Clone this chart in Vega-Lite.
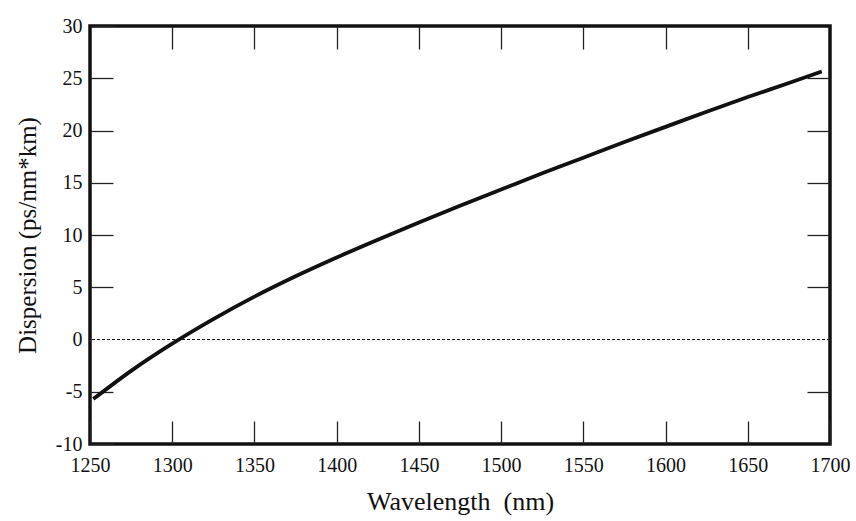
{
  "$schema": "https://vega.github.io/schema/vega-lite/v6.json",
  "width": 740,
  "height": 418,
  "autosize": {"type": "none"},
  "padding": {"left": 90, "top": 26, "right": 26, "bottom": 77},
  "background": "white",
  "config": {
    "font": "Liberation Serif",
    "view": {"stroke": "#111", "strokeWidth": 3.5},
    "axis": {
      "grid": false,
      "domain": false,
      "labelFont": "Liberation Serif",
      "titleFont": "Liberation Serif",
      "labelColor": "#111",
      "titleColor": "#111",
      "tickColor": "#222",
      "labelFontSize": 20,
      "titleFontSize": 26,
      "titleFontWeight": "normal",
      "tickSize": -23,
      "tickWidth": 1.3,
      "labelFlush": false,
      "labelOverlap": false,
      "labelExpr": "'' + datum.value"
    }
  },
  "layer": [
    {
      "data": {
        "values": [
          {"wavelength": 1252, "dispersion": -5.7},
          {"wavelength": 1275, "dispersion": -3.0},
          {"wavelength": 1300, "dispersion": -0.4},
          {"wavelength": 1325, "dispersion": 1.95},
          {"wavelength": 1350, "dispersion": 4.1},
          {"wavelength": 1375, "dispersion": 6.05},
          {"wavelength": 1400, "dispersion": 7.85},
          {"wavelength": 1425, "dispersion": 9.55},
          {"wavelength": 1450, "dispersion": 11.2},
          {"wavelength": 1475, "dispersion": 12.8},
          {"wavelength": 1500, "dispersion": 14.35},
          {"wavelength": 1525, "dispersion": 15.9},
          {"wavelength": 1550, "dispersion": 17.4},
          {"wavelength": 1575, "dispersion": 18.9},
          {"wavelength": 1600, "dispersion": 20.35},
          {"wavelength": 1625, "dispersion": 21.8},
          {"wavelength": 1650, "dispersion": 23.2},
          {"wavelength": 1675, "dispersion": 24.55},
          {"wavelength": 1695, "dispersion": 25.65}
        ]
      },
      "mark": {"type": "line", "color": "#111", "strokeWidth": 3.8, "interpolate": "monotone", "strokeCap": "butt"},
      "encoding": {
        "x": {
          "field": "wavelength",
          "type": "quantitative",
          "scale": {"domain": [1250, 1700], "nice": false, "zero": false},
          "axis": {
            "orient": "bottom",
            "values": [1250, 1300, 1350, 1400, 1450, 1500, 1550, 1600, 1650, 1700],
            "title": "Wavelength\u00a0\u00a0(nm)",
            "labelPadding": 34,
            "titlePadding": 13
          }
        },
        "y": {
          "field": "dispersion",
          "type": "quantitative",
          "scale": {"domain": [-10, 30], "nice": false, "zero": false},
          "axis": {
            "orient": "left",
            "values": [-10, -5, 0, 5, 10, 15, 20, 25, 30],
            "title": "Dispersion (ps/nm*km)",
            "labelPadding": 31,
            "titlePadding": 15,
            "titleFontSize": 25,
            "tickOpacity": {"condition": {"test": "datum.value === 0", "value": 0}, "value": 1}
          }
        }
      }
    },
    {
      "data": {"values": [{"level": 0}]},
      "mark": {"type": "rule", "color": "#111", "strokeWidth": 1, "strokeDash": [3, 2]},
      "encoding": {
        "y": {"field": "level", "type": "quantitative", "axis": null}
      }
    },
    {
      "data": {"values": [{"wavelength": 1250, "dispersion": 0}]},
      "mark": {"type": "point", "opacity": 0},
      "encoding": {
        "x": {
          "field": "wavelength",
          "type": "quantitative",
          "axis": {"orient": "top", "labels": false, "title": null, "values": [1300, 1350, 1400, 1450, 1500, 1550, 1600, 1650]}
        },
        "y": {
          "field": "dispersion",
          "type": "quantitative",
          "axis": {"orient": "right", "labels": false, "title": null, "values": [-5, 5, 10, 15, 20, 25]}
        }
      }
    }
  ],
  "resolve": {"axis": {"x": "independent", "y": "independent"}}
}
